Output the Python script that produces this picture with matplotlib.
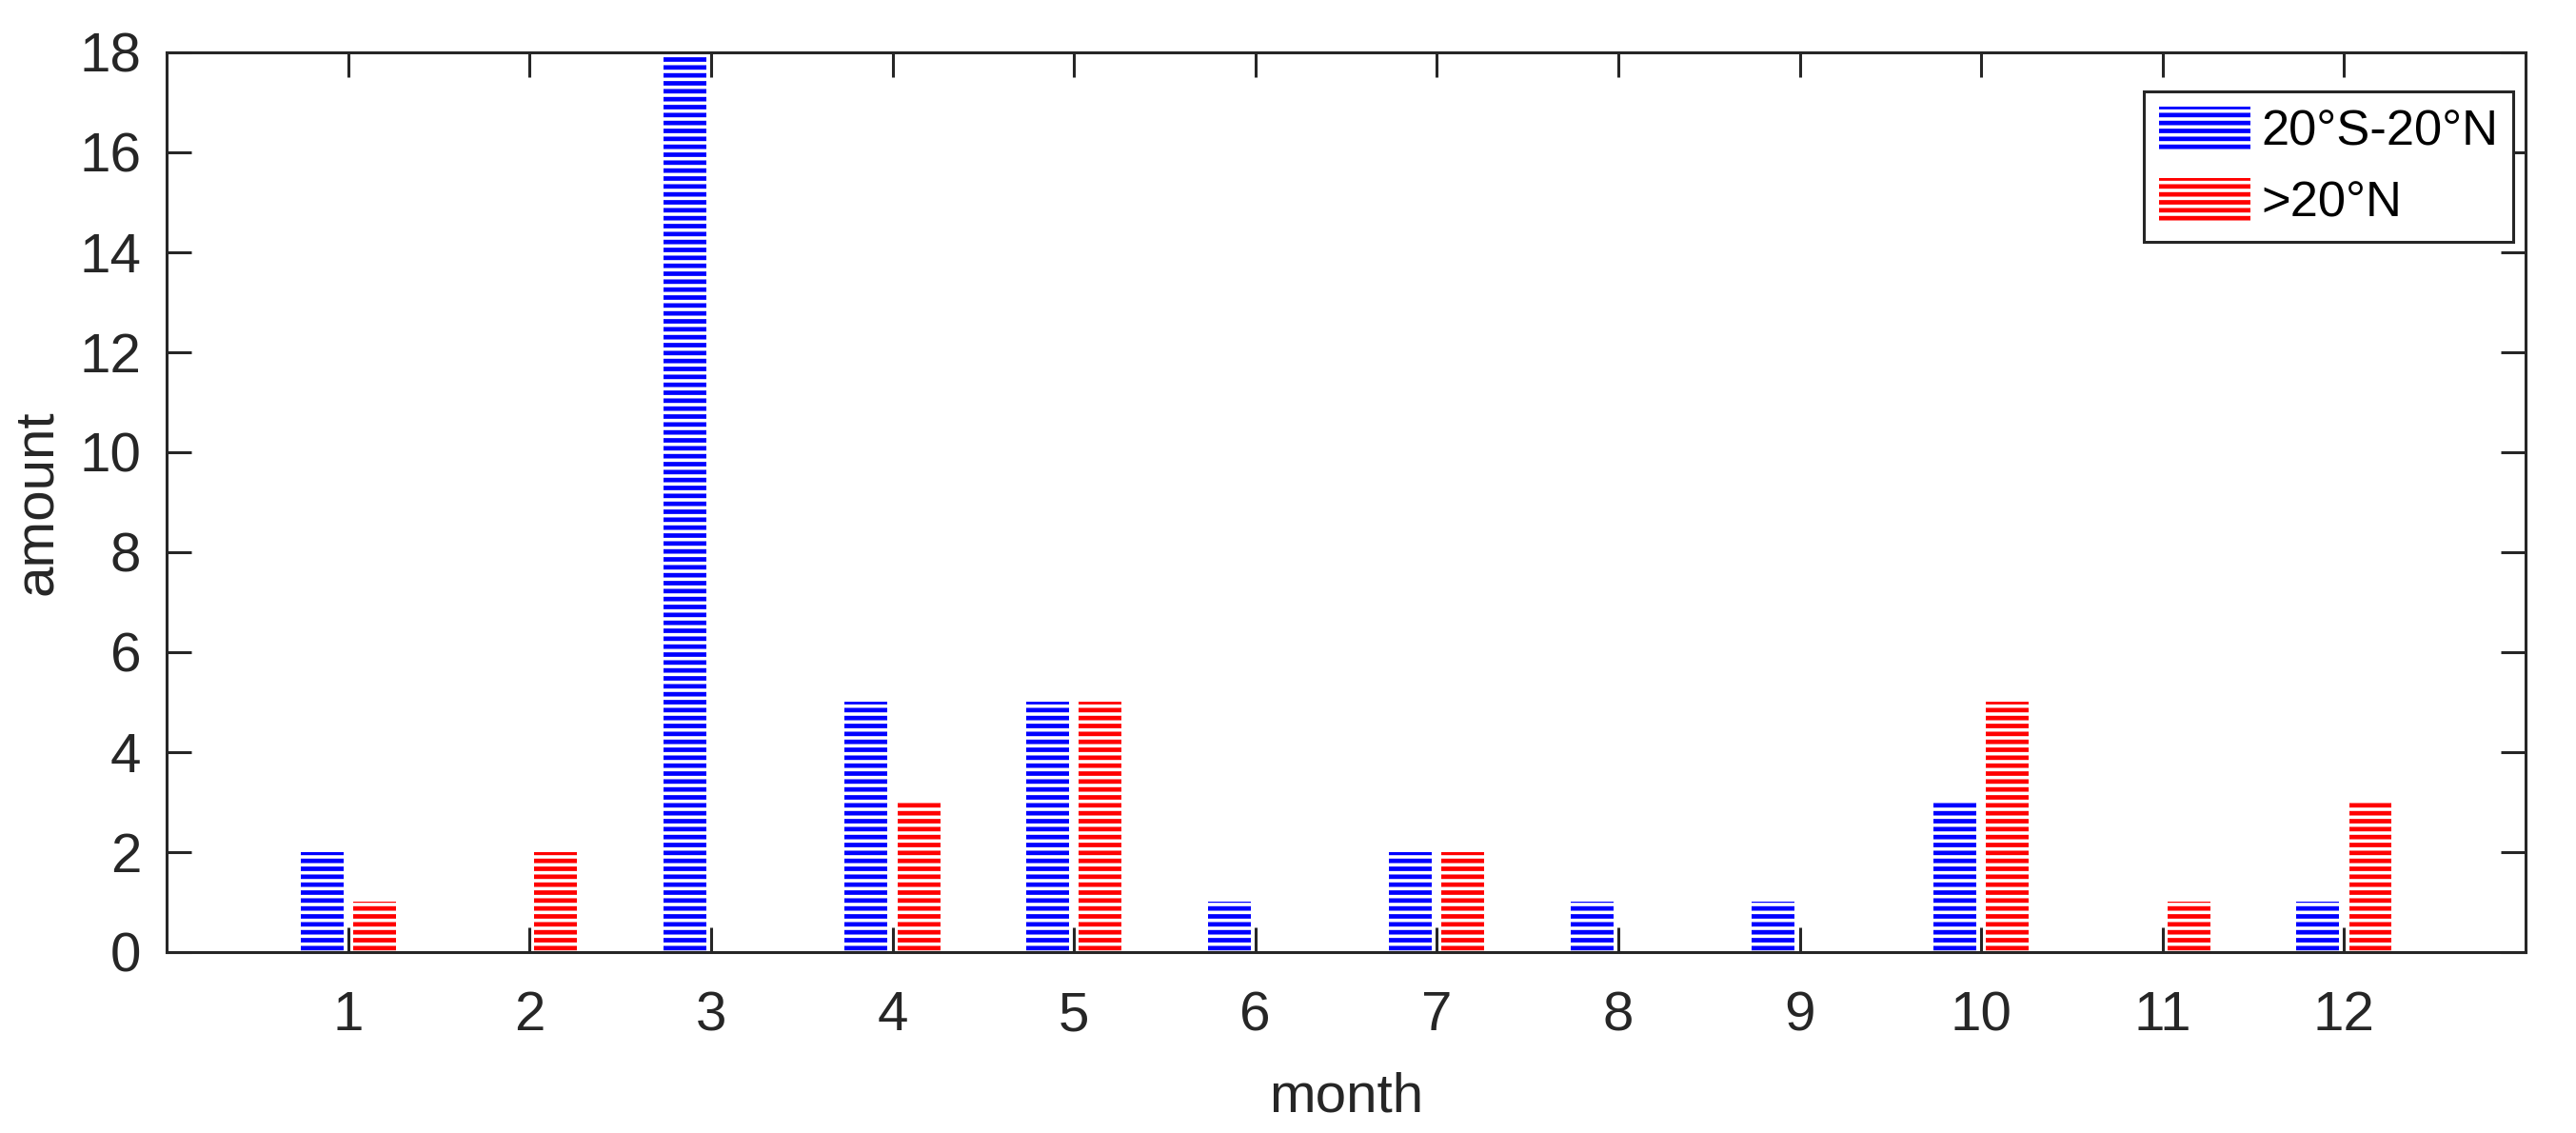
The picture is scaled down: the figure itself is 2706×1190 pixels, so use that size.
import numpy as np
import matplotlib.pyplot as plt

# data
months = np.arange(1, 13)
tropics = [2, 0, 18, 5, 5, 1, 2, 1, 1, 3, 0, 1]   # 20°S-20°N
north = [1, 2, 0, 3, 5, 0, 2, 0, 0, 5, 1, 3]      # >20°N
labels = ["20°S-20°N", ">20°N"]

plt.rcParams['font.family'] = ['Liberation Sans', 'DejaVu Sans']
plt.rcParams['hatch.linewidth'] = 1.7
AX_COL = '#262626'
FS = 21

fig = plt.figure(figsize=(13.53, 5.95), dpi=200)
ax = fig.add_axes([0.0647, 0.1597, 0.9804 - 0.0647, 0.9538 - 0.1597])

w = 0.236
off = 0.145
ax.bar(months - off, tropics, width=w, facecolor='white', edgecolor='#0000ff',
       hatch='----', linewidth=0, label=labels[0])
ax.bar(months + off, north, width=w, facecolor='white', edgecolor='#ff0000',
       hatch='----', linewidth=0, label=labels[1])

ax.set_xlim(0, 13)
ax.set_ylim(0, 18)
ax.set_xticks(months)
ax.set_yticks(np.arange(0, 19, 2))
ax.tick_params(direction='in', length=9.4, width=1.1, colors=AX_COL,
               labelsize=FS, top=True, right=True)
ax.tick_params(axis='x', pad=14.5)
ax.tick_params(axis='y', pad=9.7)
for s in ax.spines.values():
    s.set_linewidth(1.1)
    s.set_color(AX_COL)

ax.set_xlabel('month', fontsize=FS, color=AX_COL)
ax.set_ylabel('amount', fontsize=FS, color=AX_COL)
ax.xaxis.set_label_coords(0.5, -0.133)
ax.yaxis.set_label_coords(-0.044, 0.5)

leg = ax.legend(loc='upper right', bbox_to_anchor=(0.9948, 0.9566), fontsize=FS * 0.9,
                fancybox=False, handlelength=1.84, handleheight=0.95,
                handletextpad=0.21, borderaxespad=0, labelspacing=0.44,
                borderpad=0.3)
leg.get_frame().set_edgecolor(AX_COL)
leg.get_frame().set_linewidth(1.1)
leg.get_frame().set_alpha(1)

fig.savefig('out.png', dpi=200)
